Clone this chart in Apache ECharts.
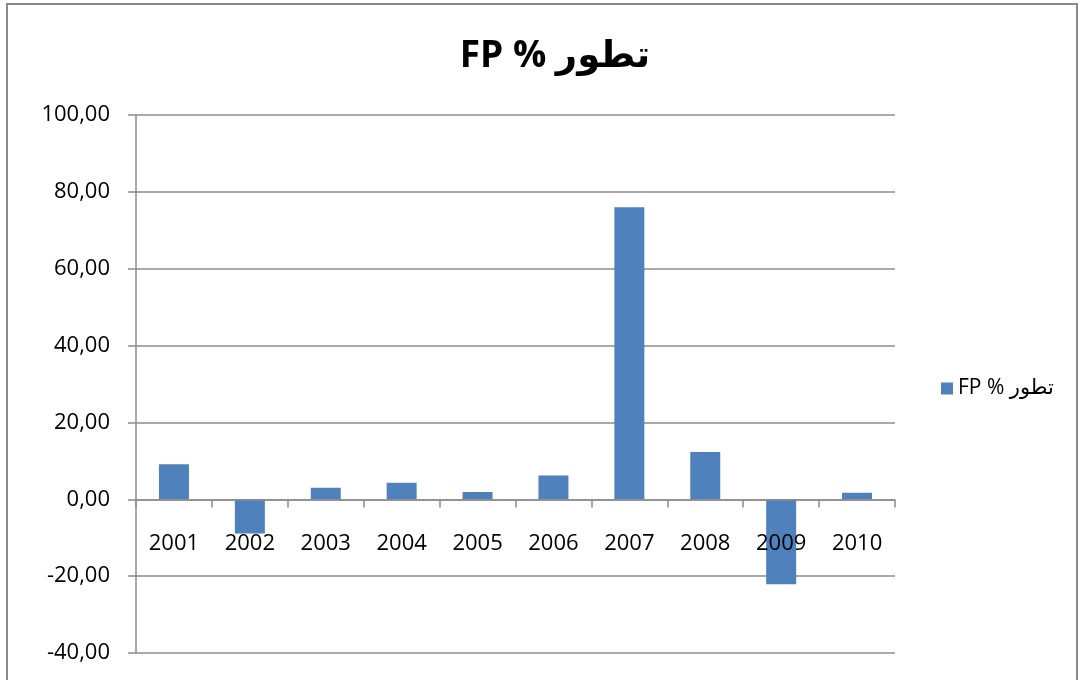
<!DOCTYPE html>
<html>
<head>
<meta charset="utf-8">
<script src="https://cdn.jsdelivr.net/npm/echarts@6/dist/echarts.min.js"></script>
<style>
  html, body { margin: 0; padding: 0; background: #fff; }
  #main { width: 1080px; height: 680px; }
</style>
</head>
<body>
<div id="main"></div>
<script>
// data
var years = ["2001", "2002", "2003", "2004", "2005", "2006", "2007", "2008", "2009", "2010"];
var fpGrowth = [9.1, -8.9, 3.0, 4.3, 1.9, 6.2, 76.0, 12.3, -22.1, 1.7];
var seriesName = "FP % تطور";

var fontFam = "'Open Sans', 'DejaVu Sans', sans-serif";
var gray = "#8c8c8c";

var chart = echarts.init(document.getElementById("main"));

var option = {
  animation: false,
  title: {
    text: seriesName,
    left: 550,
    textAlign: "center",
    top: 33,
    textStyle: { fontFamily: fontFam, fontSize: 37, fontWeight: "bold", color: "#000" }
  },
  legend: {
    orient: "vertical",
    left: 936,
    top: 373,
    itemWidth: 12,
    itemHeight: 12,
    itemGap: 6,
    icon: "rect",
    textStyle: { fontFamily: fontFam, fontSize: 21, color: "#000" },
    data: [seriesName]
  },
  grid: { left: 136, right: 185, top: 115, bottom: 27, outerBoundsMode: "none", containLabel: false },
  xAxis: {
    type: "category",
    data: years,
    position: "bottom",
    // keep the axis at the zero line, labels drawn just under it
    offset: -153.5,
    z: 10,
    axisLine: { onZero: false, lineStyle: { color: gray, width: 1.5 } },
    axisTick: { show: true, length: 8, lineStyle: { color: gray, width: 1.5 } },
    axisLabel: { margin: 33, fontFamily: fontFam, fontSize: 22, color: "#000" }
  },
  yAxis: {
    type: "value",
    min: -40,
    max: 100,
    interval: 20,
    axisLine: { show: true, lineStyle: { color: gray, width: 1.5 } },
    axisTick: { show: true, length: 8, lineStyle: { color: gray, width: 1.5 } },
    splitLine: { lineStyle: { color: gray, width: 1.5 } },
    axisLabel: {
      margin: 26,
      fontFamily: fontFam,
      fontSize: 22,
      color: "#000",
      formatter: function (v) { return v.toFixed(2).replace(".", ","); }
    }
  },
  series: [
    {
      name: seriesName,
      type: "bar",
      barWidth: 30,
      itemStyle: { color: "#4f81bd" },
      data: fpGrowth
    }
  ],
  graphic: [
    {
      type: "rect",
      shape: { x: 7, y: 4, width: 1070, height: 700 },
      style: { fill: "none", stroke: "#8a8a8a", lineWidth: 2 },
      silent: true
    }
  ]
};

chart.setOption(option);
</script>
</body>
</html>
